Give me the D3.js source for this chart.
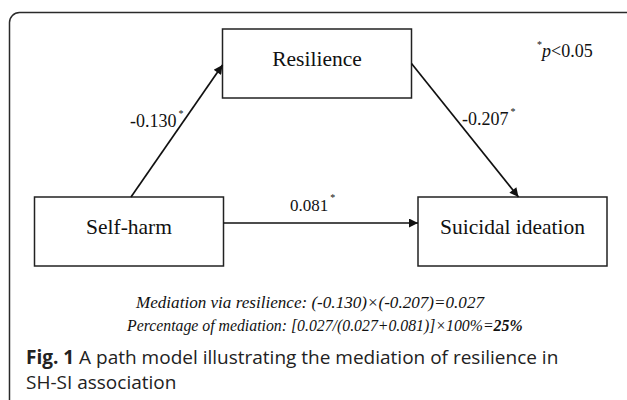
<!DOCTYPE html>
<html>
<head>
<meta charset="utf-8">
<script src="https://cdn.jsdelivr.net/npm/d3@7"></script>
<style>
  body { margin: 0; background: #fff; }
  svg { display: block; }
</style>
</head>
<body>
<div id="vis"></div>
<script>
// Variables del modelo
const NODE_NAMES = ["Self-harm", "Resilience", "Suicidal ideation"];
// Caminos: origen, destino, coeficiente
const PATH_FROM = ["Self-harm", "Resilience", "Self-harm"];
const PATH_TO = ["Resilience", "Suicidal ideation", "Suicidal ideation"];
const PATH_COEF = ["-0.130", "-0.207", "0.081"];
const SIG_NOTE = "p<0.05";
const NOTE_LINES = [
    "Mediation via resilience: (-0.130)\u00d7(-0.207)=0.027",
    "Percentage of mediation: [0.027/(0.027+0.081)]\u00d7100%="
];
const NOTE_BOLD = "25%";
const CAPTION = ["A path model illustrating the mediation of resilience in", "SH-SI association"];

const WIDTH = 627, HEIGHT = 400;
const SVG = d3.select("#vis").append("svg").attr("width", WIDTH).attr("height", HEIGHT);

const SERIF = "'Liberation Serif', 'Times New Roman', serif";
const SANS = "'Open Sans', 'Noto Sans', sans-serif";

// Marco con esquina redondeada
SVG.append("rect")
    .attr("x", 9.5).attr("y", 12.5)
    .attr("width", 700).attr("height", 500)
    .attr("rx", 10)
    .attr("fill", "none")
    .attr("stroke", "#2a2a2a")
    .attr("stroke-width", 1.5);

// Escalas para ubicar las cajas
const xCenter = d3.scaleOrdinal().domain(NODE_NAMES).range([129, 317, 512.5]);
const yRow = d3.scaleOrdinal().domain(NODE_NAMES).range([231.5, 63.5, 231.5]);
const boxW = 189, boxH = 69;

const nodes = NODE_NAMES.map(n => ({
    name: n,
    cx: xCenter(n),
    cy: yRow(n),
    x0: xCenter(n) - boxW / 2, x1: xCenter(n) + boxW / 2,
    y0: yRow(n) - boxH / 2, y1: yRow(n) + boxH / 2
}));
const byName = new Map(nodes.map(d => [d.name, d]));

// Punta de flecha
SVG.append("defs").append("marker")
    .attr("id", "arrow")
    .attr("viewBox", "0 0 10 10")
    .attr("refX", 10).attr("refY", 5)
    .attr("markerWidth", 12).attr("markerHeight", 9)
    .attr("markerUnits", "userSpaceOnUse")
    .attr("orient", "auto")
    .append("path")
    .attr("d", "M0,0 L10,5 L0,10 z")
    .attr("fill", "#111");

// Cajas
const g = SVG.append("g");
g.selectAll("rect.box")
    .data(nodes)
    .enter().append("rect")
    .attr("class", "box")
    .attr("x", d => d.x0).attr("y", d => d.y0)
    .attr("width", boxW).attr("height", boxH)
    .attr("fill", "white")
    .attr("stroke", "#222")
    .attr("stroke-width", 1.5);

g.selectAll("text.box")
    .data(nodes)
    .enter().append("text")
    .attr("x", d => d.cx)
    .attr("y", d => d.cy + 2)
    .attr("text-anchor", "middle")
    .style("font-family", SERIF)
    .style("font-size", "21.5px")
    .style("fill", "#111")
    .text(d => d.name);

// Caminos
const paths = PATH_COEF.map((c, i) => ({ from: byName.get(PATH_FROM[i]), to: byName.get(PATH_TO[i]), coef: c }));

function endpoints(p) {
    const a = p.from, b = p.to;
    if (a.cy === b.cy) {
        return [a.x1, a.cy - 8.5, b.x0, b.cy - 8.5];
    } else if (a.cy > b.cy) {
        return [a.cx + 2, a.y0, b.x0, b.cy + 1.5];
    } else {
        return [a.x1, a.cy, b.cx + 6, b.y0];
    }
}

g.selectAll("line.path")
    .data(paths)
    .enter().append("line")
    .attr("class", "path")
    .attr("x1", d => endpoints(d)[0])
    .attr("y1", d => endpoints(d)[1])
    .attr("x2", d => endpoints(d)[2])
    .attr("y2", d => endpoints(d)[3])
    .attr("stroke", "#111")
    .attr("stroke-width", 1.7)
    .attr("marker-end", "url(#arrow)");

// Etiquetas de coeficientes
const labelPos = [[130, 127], [462, 125], [290, 211]];
const lab = g.selectAll("text.coef")
    .data(paths)
    .enter().append("text")
    .attr("class", "coef")
    .attr("x", (d, i) => labelPos[i][0])
    .attr("y", (d, i) => labelPos[i][1])
    .style("font-family", SERIF)
    .style("font-size", (d, i) => i === 2 ? "17px" : "18px")
    .style("fill", "#111");
lab.append("tspan").text(d => d.coef);
lab.append("tspan")
    .attr("dx", 2).attr("dy", -10)
    .style("font-size", "10px")
    .text("*");

// Nota de significancia
const sig = SVG.append("text")
    .attr("x", 537).attr("y", 57)
    .style("font-family", SERIF)
    .style("font-size", "18px")
    .style("fill", "#111");
sig.append("tspan").attr("dy", -9).style("font-size", "10px").text("*");
sig.append("tspan").attr("dy", 9).style("font-style", "italic").text(SIG_NOTE[0]);
sig.append("tspan").text(SIG_NOTE.slice(1));

// Notas de mediación
SVG.append("text")
    .attr("x", 136).attr("y", 308)
    .attr("textLength", 348).attr("lengthAdjust", "spacingAndGlyphs")
    .style("font-family", SERIF)
    .style("font-style", "italic")
    .style("font-size", "16px")
    .style("fill", "#111")
    .text(NOTE_LINES[0]);

const n2 = SVG.append("text")
    .attr("x", 127).attr("y", 331)
    .style("font-family", SERIF)
    .style("font-style", "italic")
    .style("font-size", "15.8px")
    .style("fill", "#111");
n2.append("tspan").text(NOTE_LINES[1]);
n2.append("tspan").style("font-weight", "bold").text(NOTE_BOLD);

// Pie de figura
const cap = SVG.append("text")
    .attr("x", 26).attr("y", 364)
    .style("font-family", SANS)
    .style("font-size", "19px")
    .style("fill", "#222");
cap.append("tspan").style("font-weight", "bold").text("Fig. 1");
cap.append("tspan").text(" " + CAPTION[0]);

SVG.append("text")
    .attr("x", 26).attr("y", 389)
    .style("font-family", SANS)
    .style("font-size", "19px")
    .style("fill", "#222")
    .text(CAPTION[1]);
</script>
</body>
</html>
